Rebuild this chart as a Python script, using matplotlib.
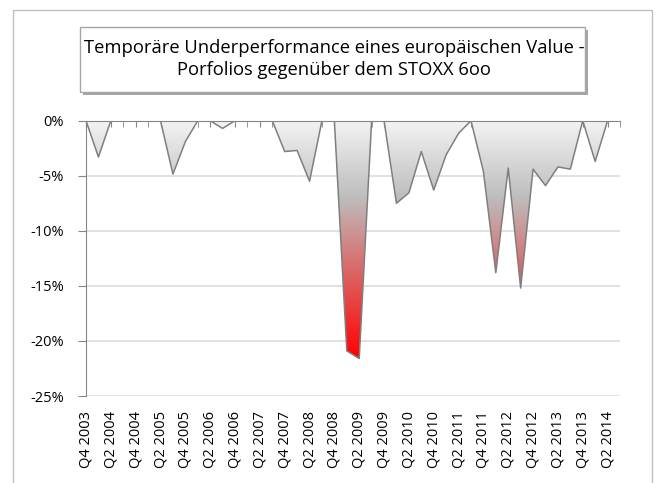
import numpy as np
import matplotlib
matplotlib.use('Agg')
import matplotlib.pyplot as plt
from matplotlib.colors import LinearSegmentedColormap
from matplotlib.patches import Rectangle

plt.rcParams['font.family'] = ['Open Sans', 'DejaVu Sans']

quarters = ['Q4 2003',
            'Q1 2004', 'Q2 2004', 'Q3 2004', 'Q4 2004',
            'Q1 2005', 'Q2 2005', 'Q3 2005', 'Q4 2005',
            'Q1 2006', 'Q2 2006', 'Q3 2006', 'Q4 2006',
            'Q1 2007', 'Q2 2007', 'Q3 2007', 'Q4 2007',
            'Q1 2008', 'Q2 2008', 'Q3 2008', 'Q4 2008',
            'Q1 2009', 'Q2 2009', 'Q3 2009', 'Q4 2009',
            'Q1 2010', 'Q2 2010', 'Q3 2010', 'Q4 2010',
            'Q1 2011', 'Q2 2011', 'Q3 2011', 'Q4 2011',
            'Q1 2012', 'Q2 2012', 'Q3 2012', 'Q4 2012',
            'Q1 2013', 'Q2 2013', 'Q3 2013', 'Q4 2013',
            'Q1 2014', 'Q2 2014', 'Q3 2014']

# Underperformance in Prozent
underperf = [0, -3.3, 0, 0, 0, 0, 0, -4.85, -1.9, 0, 0, -0.7, 0, 0, 0, 0,
             -2.8, -2.7, -5.5, 0, 0, -20.9, -21.6, 0, 0, -7.5, -6.55, -2.8,
             -6.3, -3.1, -1.15, 0, -4.6, -13.8, -4.3, -15.2, -4.4, -5.9,
             -4.2, -4.4, 0, -3.7, 0, 0]

yticks = [0, -5, -10, -15, -20, -25]
title = 'Temporäre Underperformance eines europäischen Value -\nPorfolios gegenüber dem STOXX 6oo'

W, H = 658, 483
fig = plt.figure(figsize=(W / 100, H / 100), dpi=100)

# Rahmen des Diagramms
fig.patches.append(Rectangle((13 / W, -0.01), (652 - 13) / W, 1 - 10 / H + 0.01,
                             transform=fig.transFigure, fill=False,
                             edgecolor='#bfbfbf', lw=1))

ax = fig.add_axes([86 / W, 1 - 396 / H, (620 - 86) / W, (396 - 120.7) / H])

x = np.arange(len(underperf))
vals = np.array(underperf)

# Gradient-Füllung (hell -> grau -> rot)
cmap = LinearSegmentedColormap.from_list('grad', [(0, '#f3f3f3'), (0.32, '#bdbdbd'),
                                                  (1.0, '#ff0000')])
poly = ax.fill_between(x, vals, 0, color='none')
grad = np.linspace(1, 0, 256).reshape(-1, 1)
im = ax.imshow(grad, cmap=cmap, aspect='auto', origin='lower',
               extent=[0, len(vals) - 1, vals.min(), 0], zorder=2)
im.set_clip_path(poly.get_paths()[0], transform=ax.transData)
ax.plot(x, vals, color='#7f7f7f', lw=1.1, zorder=3)

ax.set_xlim(0, len(vals) - 1)
ax.set_ylim(-25, 0)

ax.set_yticks(yticks)
ax.set_yticklabels([f'{v}%' for v in yticks], fontsize=10.5)
for v in yticks[1:]:
    ax.axhline(v, color='#d9d9d9', lw=1.1, zorder=1)

ax.set_xticks(x[0::2])
ax.set_xticklabels(quarters[0::2], rotation=90, fontsize=10.5)
ax.set_xticks(x, minor=True)
ax.tick_params(axis='x', which='both', bottom=False, top=True, direction='in',
               length=4, color='#868686', labelbottom=True, pad=11)
ax.tick_params(axis='y', direction='out', length=6, color='#868686', pad=10)

for s in ['right', 'bottom']:
    ax.spines[s].set_visible(False)
ax.spines['left'].set_color('#868686')
ax.spines['top'].set_color('#868686')
ax.spines['top'].set_zorder(4)

# Titel mit Schatten
fig.patches.append(Rectangle((83 / W, 1 - 95 / H), (588 - 83) / W, (95 - 30) / H,
                             transform=fig.transFigure, facecolor='#a6a6a6',
                             edgecolor='none'))
fig.patches.append(Rectangle((80 / W, 1 - 92 / H), (585 - 80) / W, (92 - 27) / H,
                             transform=fig.transFigure, facecolor='white',
                             edgecolor='#a6a6a6', lw=1))
fig.text(334 / W, 1 - 59 / H, title, ha='center', va='center', fontsize=13.2,
         linespacing=1.3)

fig.savefig('out.png', dpi=100)
